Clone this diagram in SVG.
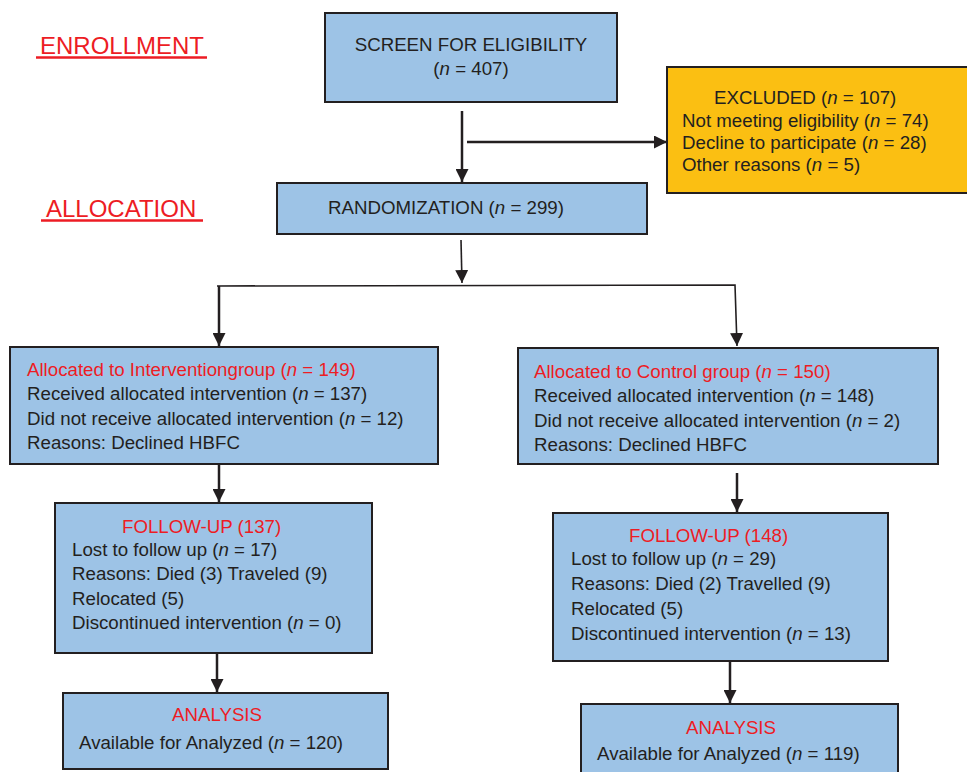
<svg xmlns="http://www.w3.org/2000/svg" width="967" height="772" viewBox="0 0 967 772">
<style>
.box{fill:#9dc3e6;stroke:#231f20;stroke-width:2}
.exc{fill:#fbbf12;stroke:#231f20;stroke-width:2}
text{font-family:"Liberation Sans",Arial,sans-serif;font-size:18.7px;fill:#231f20}
.red{fill:#ed1c24}
.hdr{font-size:24px;fill:#ed1c24}
.i{font-style:italic}
.ln{stroke:#231f20;stroke-width:2.5;fill:none}
.thin{stroke:#231f20;stroke-width:1.6;fill:none}
.ul{stroke:#ed1c24;stroke-width:2.5}
</style>
<defs>
<marker id="ah" markerWidth="13" markerHeight="13" refX="10" refY="5" orient="auto" markerUnits="userSpaceOnUse" viewBox="0 0 10 10">
<path d="M0,0 L10,5 L0,10 z" fill="#231f20"/>
</marker>
</defs>
<rect width="967" height="772" fill="#ffffff"/>

<g id="labels">
<text class="hdr" x="40" y="54">ENROLLMENT</text>
<line class="ul" x1="36" y1="57.5" x2="207" y2="57.5"/>
<text class="hdr" x="46" y="217">ALLOCATION</text>
<line class="ul" x1="41" y1="220.5" x2="203" y2="220.5"/>
</g>

<g id="connectors">
<line class="ln" x1="462" y1="111" x2="462" y2="182" marker-end="url(#ah)"/>
<line class="ln" x1="467" y1="142" x2="667" y2="142" marker-end="url(#ah)"/>
<line class="thin" x1="461" y1="240" x2="462" y2="283" marker-end="url(#ah)"/>
<polyline class="thin" points="217,286 735,285 737,346" marker-end="url(#ah)"/>
<line class="ln" x1="219" y1="286" x2="219" y2="346" marker-end="url(#ah)"/>
<line class="ln" x1="219" y1="464" x2="219" y2="502" marker-end="url(#ah)"/>
<line class="ln" x1="737" y1="473" x2="737" y2="512" marker-end="url(#ah)"/>
<line class="ln" x1="217" y1="653" x2="217" y2="692" marker-end="url(#ah)"/>
<line class="ln" x1="730" y1="661" x2="730" y2="703" marker-end="url(#ah)"/>
</g>

<g id="screen">
<rect class="box" x="325" y="13" width="292" height="89"/>
<text x="471" y="51" text-anchor="middle">SCREEN FOR ELIGIBILITY</text>
<text x="471" y="75" text-anchor="middle">(<tspan class="i">n</tspan> = 407)</text>
</g>

<g id="excluded">
<rect class="exc" x="667" y="67" width="302" height="126"/>
<text x="714" y="104">EXCLUDED (<tspan class="i">n</tspan> = 107)</text>
<text x="682" y="127">Not meeting eligibility (<tspan class="i">n</tspan> = 74)</text>
<text x="682" y="149">Decline to participate (<tspan class="i">n</tspan> = 28)</text>
<text x="682" y="171">Other reasons (<tspan class="i">n</tspan> = 5)</text>
</g>

<g id="randomization">
<rect class="box" x="277" y="183" width="370" height="51"/>
<text x="328" y="214">RANDOMIZATION (<tspan class="i">n</tspan> = 299)</text>
</g>

<g id="alloc-intervention">
<rect class="box" x="10" y="347" width="428" height="117"/>
<text class="red" x="27" y="376">Allocated to Interventiongroup (<tspan class="i">n</tspan> = 149)</text>
<text x="27" y="400">Received allocated intervention (<tspan class="i">n</tspan> = 137)</text>
<text x="27" y="425">Did not receive allocated intervention (<tspan class="i">n</tspan> = 12)</text>
<text x="27" y="449">Reasons: Declined HBFC</text>
</g>

<g id="alloc-control">
<rect class="box" x="518" y="348" width="420" height="116"/>
<text class="red" x="534" y="378">Allocated to Control group (<tspan class="i">n</tspan> = 150)</text>
<text x="534" y="402">Received allocated intervention (<tspan class="i">n</tspan> = 148)</text>
<text x="534" y="427">Did not receive allocated intervention (<tspan class="i">n</tspan> = 2)</text>
<text x="534" y="451">Reasons: Declined HBFC</text>
</g>

<g id="followup-intervention">
<rect class="box" x="55" y="503" width="317" height="150"/>
<text class="red" x="122" y="533">FOLLOW-UP (137)</text>
<text x="72" y="556">Lost to follow up (<tspan class="i">n</tspan> = 17)</text>
<text x="72" y="580">Reasons: Died (3) Traveled (9)</text>
<text x="72" y="605">Relocated (5)</text>
<text x="72" y="629">Discontinued intervention (<tspan class="i">n</tspan> = 0)</text>
</g>

<g id="followup-control">
<rect class="box" x="553" y="513" width="335" height="148"/>
<text class="red" x="629" y="542">FOLLOW-UP (148)</text>
<text x="571" y="565">Lost to follow up (<tspan class="i">n</tspan> = 29)</text>
<text x="571" y="590">Reasons: Died (2) Travelled (9)</text>
<text x="571" y="615">Relocated (5)</text>
<text x="571" y="640">Discontinued intervention (<tspan class="i">n</tspan> = 13)</text>
</g>

<g id="analysis-intervention">
<rect class="box" x="63" y="693" width="325" height="76"/>
<text class="red" x="217" y="721" text-anchor="middle">ANALYSIS</text>
<text x="79" y="749">Available for Analyzed (<tspan class="i">n</tspan> = 120)</text>
</g>

<g id="analysis-control">
<rect class="box" x="581" y="704" width="317" height="80"/>
<text class="red" x="731" y="734" text-anchor="middle">ANALYSIS</text>
<text x="597" y="760">Available for Analyzed (<tspan class="i">n</tspan> = 119)</text>
</g>
</svg>
